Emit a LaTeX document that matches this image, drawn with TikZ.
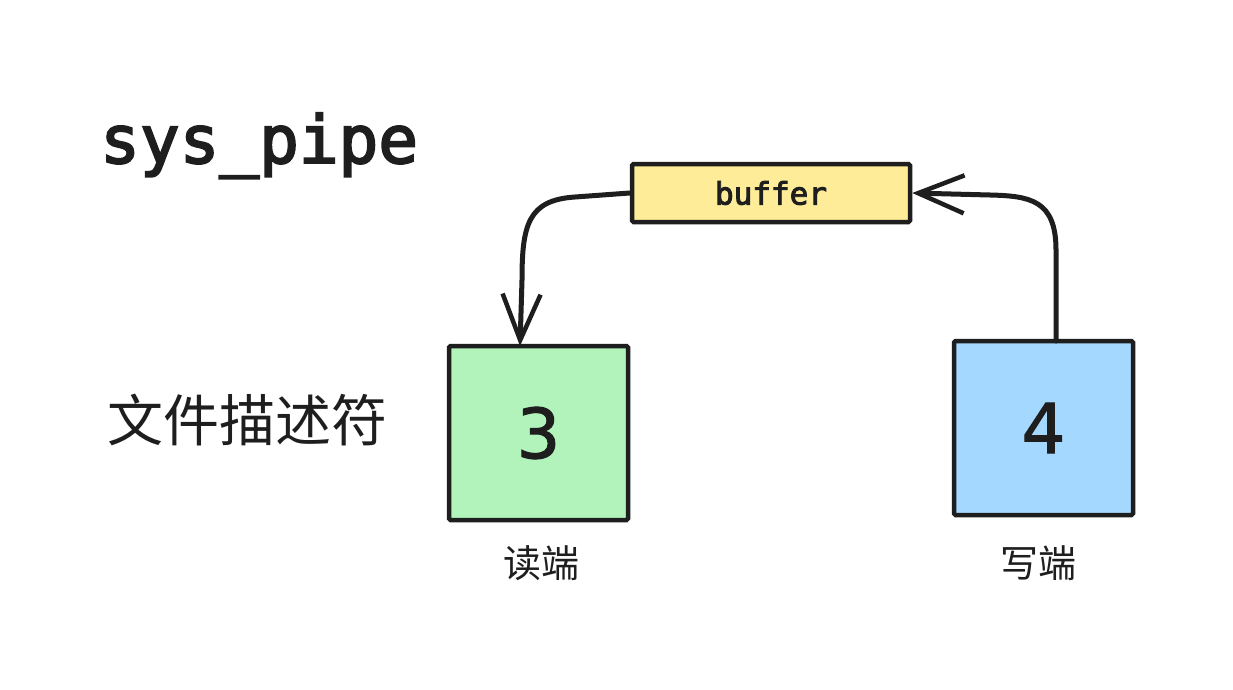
\documentclass[tikz,border=0pt]{standalone}
\usepackage{fontspec}
\setmonofont{DejaVu Sans Mono}
\newfontfamily\monom[FakeBold=3]{DejaVu Sans Mono}
\newfontfamily\digf[FakeBold=1.5]{DejaVu Sans}
\newfontfamily\cjk{Noto Sans CJK SC}
\usetikzlibrary{arrows.meta}
\definecolor{ink}{HTML}{1E1E1E}
\definecolor{gfill}{HTML}{B2F2BB}
\definecolor{bfill}{HTML}{A5D8FF}
\definecolor{yfill}{HTML}{FFEC99}
\tikzset{
  fdbox/.style={draw=ink, line width=4.5pt, rounded corners=1.5pt, minimum width=179pt, minimum height=174pt, inner sep=0pt, font=\fontsize{69}{69}\selectfont\digf, text=ink},
  bufbox/.style={draw=ink, line width=4.5pt, rounded corners=1.5pt, fill=yfill, minimum width=278pt, minimum height=58pt, inner sep=0pt, font=\fontsize{31}{31}\selectfont\monom, text=ink},
  conn/.style={draw=ink, line width=5pt, line cap=round, -{Straight Barb[length=46pt, width=38pt, line width=4.5pt]}},
  lbl/.style={text=ink, inner sep=0pt},
}
\begin{document}
\begin{tikzpicture}[x=1pt,y=-1pt]
\useasboundingbox (0,0) rectangle (1233,690);
\fill[white] (0,0) rectangle (1233,690);
\node[lbl, anchor=base west, font=\fontsize{66}{66}\selectfont\monom] (title) at (100,163) {sys\_pipe};
\node[lbl, anchor=west, font=\fontsize{56}{56}\selectfont\cjk] (fd) at (107,420) {文件描述符};
\node[bufbox] (buf) at (771,193) {buffer};
\node[fdbox, fill=gfill] (r) at (538.5,433) {3};
\node[fdbox, fill=bfill] (w) at (1043.5,428) {4};
\node[lbl, font=\fontsize{38}{38}\selectfont\cjk] (rl) at (541,563) {读端};
\node[lbl, font=\fontsize{38}{38}\selectfont\cjk] (wl) at (1038,563) {写端};
\coordinate (rt) at (520,346);
\coordinate (wt) at (1056,341);
\draw[conn] (buf.west) -- (575,197) .. controls (528,200) and (522,225) .. (522,280) -- (rt);
\draw[conn] (wt) -- (1056,250) .. controls (1056,200) and (1030,196) .. (990,195) -- (buf.east);
\end{tikzpicture}
\end{document}
